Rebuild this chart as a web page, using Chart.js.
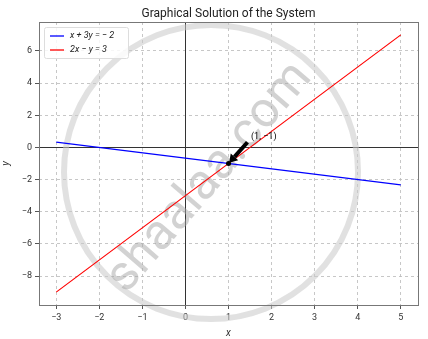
<!DOCTYPE html>
<html>
<head>
<meta charset="utf-8">
<script src="https://cdn.jsdelivr.net/npm/chart.js@4/dist/chart.umd.min.js"></script>
<style>
  html, body { margin: 0; padding: 0; background: #fff; }
  #wrap { width: 428px; height: 339px; }
</style>
</head>
<body>
<div id="wrap"><canvas id="myChart" width="428" height="339"></canvas></div>
<script>
// data
const xEnds = [-3, 5];
const line1Y = [0.33, -2.33];   // x + 3y = -2
const line2Y = [-9, 7];         // 2x - y = 3
const xTicks = [-3, -2, -1, 0, 1, 2, 3, 4, 5];
const yTicks = [-8, -6, -4, -2, 0, 2, 4, 6];
const solution = [1, -1];
const labelAt = [1.5, 0.5];

const FONT = 'Roboto, "DejaVu Sans", sans-serif';
const minus = v => String(v).replace('-', '\u2212');

// extras drawn with the chart scales: zero lines, frame, arrow, title, watermark
const extras = {
    id: 'extras',
    beforeDatasetsDraw(chart) {
        const { ctx, chartArea: a, scales: { x, y } } = chart;
        ctx.save();
        ctx.strokeStyle = '#333';
        ctx.lineWidth = 1;
        const x0 = Math.round(x.getPixelForValue(0)) + 0.5;
        const y0 = Math.round(y.getPixelForValue(0)) + 0.5;
        ctx.beginPath();
        ctx.moveTo(x0, a.top); ctx.lineTo(x0, a.bottom);
        ctx.moveTo(a.left, y0); ctx.lineTo(a.right, y0);
        ctx.stroke();

        // watermark (under the lines)
        ctx.strokeStyle = 'rgba(200,200,200,0.55)';
        ctx.lineWidth = 6;
        ctx.beginPath();
        ctx.arc(211, 172, 147, 0, Math.PI * 2);
        ctx.stroke();
        ctx.translate(210, 178);
        ctx.rotate(-0.86);
        ctx.font = '50px ' + FONT;
        ctx.fillStyle = 'rgba(165,165,165,0.5)';
        ctx.textAlign = 'center';
        ctx.textBaseline = 'middle';
        ctx.fillText('shaalaa.com', 0, 0);
        ctx.restore();
    },
    afterDatasetsDraw(chart) {
        const { ctx, chartArea: a, scales: { x, y } } = chart;
        ctx.save();
        // frame
        ctx.strokeStyle = '#777';
        ctx.lineWidth = 1;
        ctx.strokeRect(a.left + 0.5, a.top + 0.5, a.right - a.left, a.bottom - a.top);

        // arrow to the solution point
        const tx = x.getPixelForValue(labelAt[0]), ty = y.getPixelForValue(labelAt[1]);
        const hx = x.getPixelForValue(solution[0]), hy = y.getPixelForValue(solution[1]);
        ctx.fillStyle = '#000';
        ctx.beginPath();
        ctx.arc(hx, hy, 2.5, 0, Math.PI * 2);
        ctx.fill();
        const dx = hx - tx, dy = hy - ty, len = Math.hypot(dx, dy);
        const ux = dx / len, uy = dy / len;
        const sx = tx + ux * len * 0.12, sy = ty + uy * len * 0.12;
        const ex = hx - ux * len * 0.03, ey = hy - uy * len * 0.03;
        const px = -uy, py = ux;
        const bx = ex - ux * 8, by = ey - uy * 8;
        ctx.strokeStyle = '#000';
        ctx.lineWidth = 4;
        ctx.beginPath();
        ctx.moveTo(sx, sy); ctx.lineTo(bx, by);
        ctx.stroke();
        ctx.beginPath();
        ctx.moveTo(ex, ey);
        ctx.lineTo(bx + px * 5, by + py * 5);
        ctx.lineTo(bx - px * 5, by - py * 5);
        ctx.closePath();
        ctx.fill();

        // annotation text
        ctx.font = '9px ' + FONT;
        ctx.fillStyle = '#000';
        ctx.textAlign = 'left';
        ctx.textBaseline = 'bottom';
        ctx.fillText('(1, \u22121)', tx + 1, ty + 2);

        // title
        ctx.font = '12px ' + FONT;
        ctx.textAlign = 'center';
        ctx.textBaseline = 'alphabetic';
        ctx.fillStyle = '#222';
        ctx.fillText('Graphical Solution of the System', (a.left + a.right) / 2, a.top - 5);
        ctx.restore();
    }
};

// legend box drawn as an overlay in matplotlib style
const legendPlugin = {
    id: 'mplLegend',
    afterDraw(chart) {
        const { ctx, chartArea: a } = chart;
        const lx = a.left + 5, ly = a.top + 5, w = 84, h = 31;
        ctx.save();
        ctx.fillStyle = 'rgba(255,255,255,0.85)';
        ctx.strokeStyle = '#ddd';
        ctx.lineWidth = 1;
        ctx.beginPath();
        ctx.roundRect(lx + 0.5, ly + 0.5, w, h, 2);
        ctx.fill();
        ctx.stroke();
        ctx.font = 'italic 9px ' + FONT;
        ctx.textBaseline = 'middle';
        chart.data.datasets.forEach((ds, i) => {
            const yy = ly + 9 + i * 14;
            ctx.strokeStyle = ds.borderColor;
            ctx.lineWidth = 1.3;
            ctx.beginPath();
            ctx.moveTo(lx + 6, yy); ctx.lineTo(lx + 20, yy);
            ctx.stroke();
            ctx.fillStyle = '#222';
            ctx.fillText(ds.label, lx + 26, yy);
        });
        ctx.restore();
    }
};

const ctx = document.getElementById('myChart').getContext('2d');
const myChart = new Chart(ctx, {
    type: 'scatter',
    data: {
        datasets: [{
            label: 'x + 3y = \u2212 2',
            data: xEnds.map((v, i) => ({ x: v, y: line1Y[i] })),
            showLine: true,
            borderColor: 'blue',
            backgroundColor: 'blue',
            borderWidth: 1.2,
            pointRadius: 0
        }, {
            label: '2x \u2212 y = 3',
            data: xEnds.map((v, i) => ({ x: v, y: line2Y[i] })),
            showLine: true,
            borderColor: 'red',
            backgroundColor: 'red',
            borderWidth: 1.2,
            pointRadius: 0
        }]
    },
    plugins: [extras, legendPlugin],
    options: {
        responsive: false,
        animation: false,
        layout: { padding: { top: 22, right: 10, left: 0, bottom: 0 } },
        plugins: {
            legend: { display: false },
            tooltip: { enabled: false },
            title: { display: false }
        },
        scales: {
            x: {
                type: 'linear',
                min: -3.4,
                max: 5.4,
                afterBuildTicks: s => { s.ticks = xTicks.map(v => ({ value: v })); },
                afterFit: s => { s.height = 34; },
                ticks: { font: { size: 9, family: FONT }, color: '#333', padding: 3, callback: v => minus(v) },
                grid: { color: 'rgba(185,185,185,0.8)', tickColor: '#555', tickLength: 4 },
                border: { display: false, dash: [3, 3] },
                title: { display: true, text: 'x', font: { size: 10, family: FONT, style: 'italic' }, color: '#333', padding: 0 }
            },
            y: {
                type: 'linear',
                min: -9.8,
                max: 7.8,
                afterBuildTicks: s => { s.ticks = yTicks.map(v => ({ value: v })); },
                afterFit: s => { s.width = 39; },
                ticks: { font: { size: 9, family: FONT }, color: '#333', padding: 3, callback: v => minus(v) },
                grid: { color: 'rgba(185,185,185,0.8)', tickColor: '#555', tickLength: 4 },
                border: { display: false, dash: [3, 3] },
                title: { display: true, text: 'y', font: { size: 10, family: FONT, style: 'italic' }, color: '#333', padding: 0 }
            }
        }
    }
});
</script>
</body>
</html>
